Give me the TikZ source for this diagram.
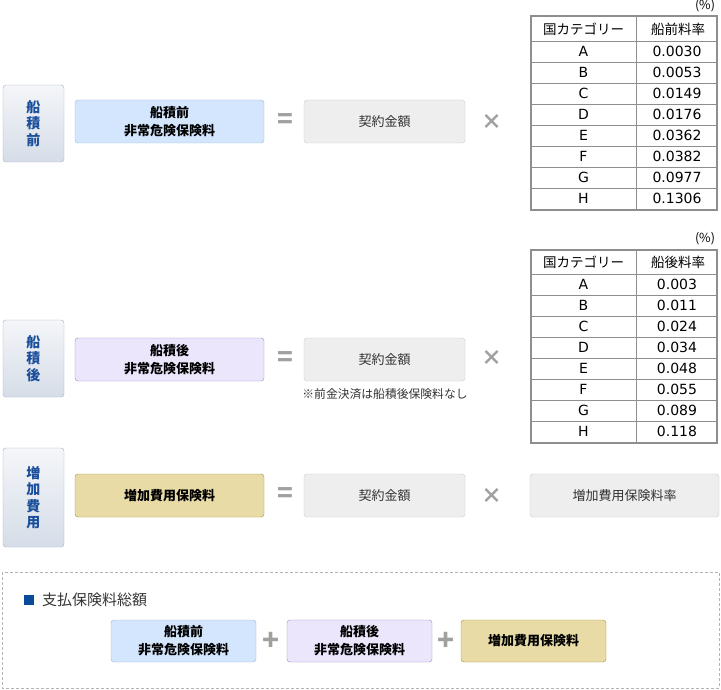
\documentclass[tikz,border=0pt]{standalone}
\usepackage{fontspec}
\setmainfont{Noto Sans CJK JP}
\newfontfamily\latinfont{DejaVu Sans}
\definecolor{lblborder}{HTML}{9EAFC6}
\definecolor{lbltop}{HTML}{F4F6F9}
\definecolor{lblbot}{HTML}{D6DDE8}
\definecolor{lbltext}{HTML}{1B4E9B}
\definecolor{bluefill}{HTML}{D4E6FD}
\definecolor{blueline}{HTML}{9CB6D6}
\definecolor{purfill}{HTML}{ECE6FD}
\definecolor{purline}{HTML}{9B86C2}
\definecolor{khfill}{HTML}{E8DBA5}
\definecolor{khline}{HTML}{A88F43}
\definecolor{grfill}{HTML}{EEEEEE}
\definecolor{grline}{HTML}{C9C9C9}
\definecolor{opgray}{HTML}{A0A0A0}
\definecolor{tabline}{HTML}{8E8E8E}
\definecolor{txt}{HTML}{333333}
\definecolor{navy}{HTML}{0B4A98}
\tikzset{
  lbl/.style={draw=lblborder, rounded corners=3pt, top color=lbltop, bottom color=lblbot,
    text=lbltext, font=\fontsize{14}{16.5}\selectfont\bfseries, align=center,
    minimum width=61pt, inner sep=0pt},
  fbox/.style={rounded corners=3pt, minimum width=189pt, minimum height=43pt, align=center,
    font=\fontsize{13}{18}\selectfont\bfseries, text=black, inner sep=0pt},
  bluebox/.style={fbox, draw=blueline, fill=bluefill},
  purbox/.style={fbox, draw=purline, fill=purfill},
  khbox/.style={fbox, draw=khline, fill=khfill},
  graybox/.style={rounded corners=3pt, draw=grline, fill=grfill, minimum width=161pt,
    minimum height=43pt, font=\fontsize{13}{16}\selectfont, text=txt, inner sep=0pt},
  sbox/.style={fbox, minimum width=145pt, minimum height=42pt},
  eqsym/.style={text=opgray, font=\fontsize{26}{26}\selectfont\bfseries, inner sep=0pt},
  xsym/.style={text=opgray, font=\fontsize{21}{21}\selectfont\bfseries, inner sep=0pt},
  plussym/.style={text=opgray, font=\fontsize{28}{28}\selectfont\bfseries, inner sep=0pt},
  cell/.style={font=\fontsize{13.5}{15}\selectfont, text=black, inner sep=0pt},
  lcell/.style={font=\latinfont\fontsize{14}{15}\selectfont, text=black, inner sep=0pt},
  unit/.style={font=\fontsize{12.5}{13}\selectfont, text=black, inner sep=0pt},
}
\begin{document}
\begin{tikzpicture}[x=1pt,y=-1pt]
\useasboundingbox (0,0) rectangle (721,690);
% ---------- row 1 ----------
\node[lbl, minimum height=77pt] (L1) at (33.5,123.5) {船\\積\\前};
\node[bluebox] (B1) at (169.5,121.5) {船積前\\非常危険保険料};
\node[eqsym] (E1) at (285,121) {=};
\node[graybox] (C1) at (384.5,121.5) {契約金額};
\node[xsym] (X1) at (492,122) {×};
% table 1
\node[unit] (U1) at (705,6) {(\%)};
\draw[tabline, line width=0.8pt] (531,41) -- (717,41);
\foreach \i in {1,...,7} \draw[tabline, line width=0.8pt] (531,{41+21*\i}) -- (717,{41+21*\i});
\draw[tabline, line width=0.8pt] (636,16) -- (636,210);
\draw[tabline, line width=2pt] (531,16) rectangle (717,210);
\node[cell] (T1h1) at (583.5,29) {国カテゴリー};
\node[cell] (T1h2) at (678,29) {船前料率};
\foreach \c/\v [count=\i] in {A/0.0030,B/0.0053,C/0.0149,D/0.0176,E/0.0362,F/0.0382,G/0.0977,H/0.1306} {
  \node[lcell] (T1c\i) at (583.5,{41+21*\i-10.5}) {\c};
  \node[lcell] (T1v\i) at (677,{41+21*\i-10.5}) {\v};
}
% ---------- row 2 ----------
\node[lbl, minimum height=77pt] (L2) at (33.5,358.5) {船\\積\\後};
\node[purbox] (B2) at (169.5,359.5) {船積後\\非常危険保険料};
\node[eqsym] (E2) at (285,359) {=};
\node[graybox] (C2) at (384.5,359.5) {契約金額};
\node[cell, text=txt, font=\fontsize{11.8}{14}\selectfont] (N2) at (385,394) {※前金決済は船積後保険料なし};
\node[xsym] (X2) at (492,358) {×};
% table 2
\node[unit] (U2) at (705,239) {(\%)};
\draw[tabline, line width=0.8pt] (531,274) -- (717,274);
\foreach \i in {1,...,7} \draw[tabline, line width=0.8pt] (531,{274+21*\i}) -- (717,{274+21*\i});
\draw[tabline, line width=0.8pt] (636,250) -- (636,443);
\draw[tabline, line width=2pt] (531,250) rectangle (717,443);
\node[cell] (T2h1) at (583.5,262) {国カテゴリー};
\node[cell] (T2h2) at (678,262) {船後料率};
\foreach \c/\v [count=\i] in {A/0.003,B/0.011,C/0.024,D/0.034,E/0.048,F/0.055,G/0.089,H/0.118} {
  \node[lcell] (T2c\i) at (583.5,{274+21*\i-10.5}) {\c};
  \node[lcell] (T2v\i) at (677,{274+21*\i-10.5}) {\v};
}
% ---------- row 3 ----------
\node[lbl, minimum height=99pt] (L3) at (33.5,497.5) {増\\加\\費\\用};
\node[khbox] (B3) at (169.5,495.5) {増加費用保険料};
\node[eqsym] (E3) at (285,495) {=};
\node[graybox] (C3) at (384.5,495.5) {契約金額};
\node[xsym] (X3) at (492,496) {×};
\node[graybox, minimum width=189pt] (R3) at (624.5,495.5) {増加費用保険料率};
% ---------- total ----------
\draw[opgray!80, dashed, dash pattern=on 3pt off 2pt, line width=0.8pt] (2,572) rectangle (719,688);
\node[fill=navy, minimum size=10pt, inner sep=0pt] (SQ) at (29,599.5) {};
\node[anchor=west, inner sep=0pt, text=txt, font=\fontsize{15}{17}\selectfont] (TT) at (42,599.5) {支払保険料総額};
\node[bluebox, sbox] (S1) at (183.5,641) {船積前\\非常危険保険料};
\node[plussym] (P1) at (271,641) {+};
\node[purbox, sbox] (S2) at (359.5,641) {船積後\\非常危険保険料};
\node[plussym] (P2) at (446,641) {+};
\node[khbox, sbox] (S3) at (533.5,641) {増加費用保険料};
\end{tikzpicture}
\end{document}
